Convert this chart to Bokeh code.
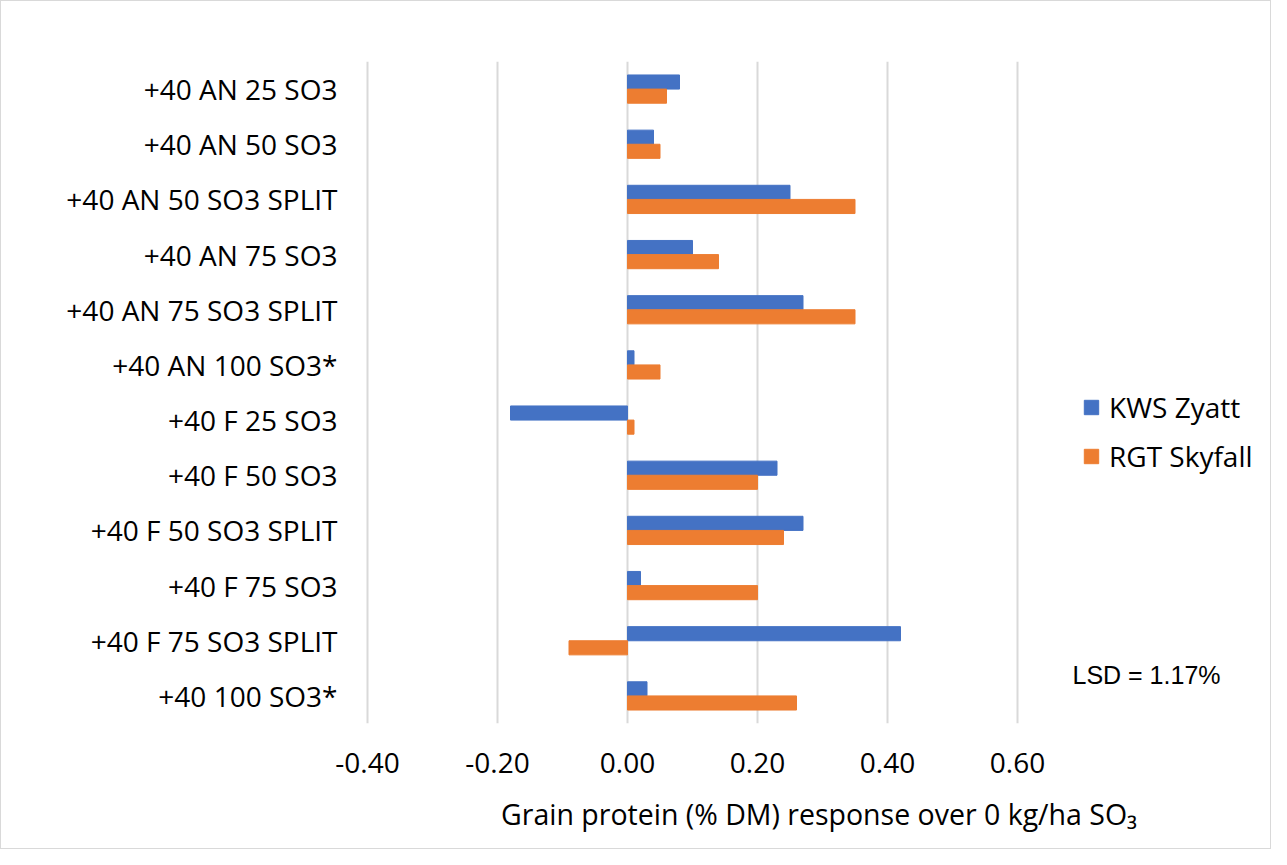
from bokeh.plotting import figure
from bokeh.models import (ColumnDataSource, FactorRange, FixedTicker, NumeralTickFormatter,
                          Label, Legend, LegendItem, Range1d, Title)
from bokeh.transform import dodge
from bokeh.embed import file_html
from bokeh.resources import INLINE

categories = ["+40 AN 25 SO3", "+40 AN 50 SO3", "+40 AN 50 SO3 SPLIT", "+40 AN 75 SO3",
              "+40 AN 75 SO3 SPLIT", "+40 AN 100 SO3*", "+40 F 25 SO3", "+40 F 50 SO3",
              "+40 F 50 SO3 SPLIT", "+40 F 75 SO3", "+40 F 75 SO3 SPLIT", "+40 100 SO3*"]
kws_zyatt = [0.08, 0.04, 0.25, 0.10, 0.27, 0.01, -0.18, 0.23, 0.27, 0.02, 0.42, 0.03]
rgt_skyfall = [0.06, 0.05, 0.35, 0.14, 0.35, 0.05, 0.01, 0.20, 0.24, 0.20, -0.09, 0.26]
x_ticks = [-0.4, -0.2, 0.0, 0.2, 0.4, 0.6]
series_names = ["KWS Zyatt", "RGT Skyfall"]
colors = ["#4472C4", "#ED7D31"]

FONT = "Open Sans"

src = ColumnDataSource(dict(cat=categories, kws=kws_zyatt, rgt=rgt_skyfall))

W, H = 1271, 849
FRAME_LEFT = 364          # px, figure coords
PX = 1.0 / 650.0          # data units per pixel (0.2 per 130 px)
frame_w = W - FRAME_LEFT
x_start = x_ticks[0] - 2 * PX
x_end = x_start + frame_w * PX

p = figure(width=W, height=H, output_backend="svg", toolbar_location=None,
           y_range=FactorRange(factors=list(reversed(categories))),
           x_range=Range1d(x_start, x_end),
           min_border_left=FRAME_LEFT, min_border_right=0, min_border_top=60,
           min_border_bottom=127)
p.outline_line_color = None
p.styles = {"border": "1px solid #d9d9d9"}

r1 = p.hbar(y=dodge("cat", 0.128, range=p.y_range), right="kws", left=0, height=0.256,
            source=src, fill_color=colors[0], line_color=colors[0])
r2 = p.hbar(y=dodge("cat", -0.128, range=p.y_range), right="rgt", left=0, height=0.256,
            source=src, fill_color=colors[1], line_color=colors[1])

p.ygrid.grid_line_color = None
p.xgrid.grid_line_color = "#d9d9d9"
p.xgrid.grid_line_width = 2
p.xaxis.ticker = FixedTicker(ticks=x_ticks)
p.xaxis.formatter = NumeralTickFormatter(format="0.00")

for ax in (p.xaxis[0], p.yaxis[0]):
    ax.axis_line_color = None
    ax.major_tick_line_color = None
    ax.minor_tick_line_color = None
    ax.major_tick_in = 0
    ax.major_tick_out = 0
    ax.major_label_text_font = FONT
    ax.major_label_text_font_size = "28px"
    ax.major_label_text_color = "#000000"
p.yaxis.major_label_standoff = 28
p.xaxis.major_label_standoff = 29

p.add_layout(Title(text="Grain protein (% DM) response over 0 kg/ha SO₃",
                   text_font=FONT, text_font_size="28.5px", text_font_style="normal",
                   text_color="#000000", align="center", offset=12, standoff=34), "below")

p.add_layout(Label(x=707, y=49, x_units="screen", y_units="screen",
                   text="LSD = 1.17%", text_font="Liberation Sans", text_font_size="25px",
                   text_align="left", text_baseline="middle", text_color="#000000"))

legend = Legend(items=[LegendItem(label=series_names[0], renderers=[r1]),
                       LegendItem(label=series_names[1], renderers=[r2])],
                location=(717, 248), orientation="vertical",
                border_line_color=None, background_fill_alpha=0,
                glyph_width=18, glyph_height=18, label_standoff=9,
                label_text_font=FONT, label_text_font_size="28px",
                label_text_color="#000000", spacing=11, padding=4, margin=0)
p.add_layout(legend, "center")

open("out.html", "w").write(file_html(p, INLINE))
